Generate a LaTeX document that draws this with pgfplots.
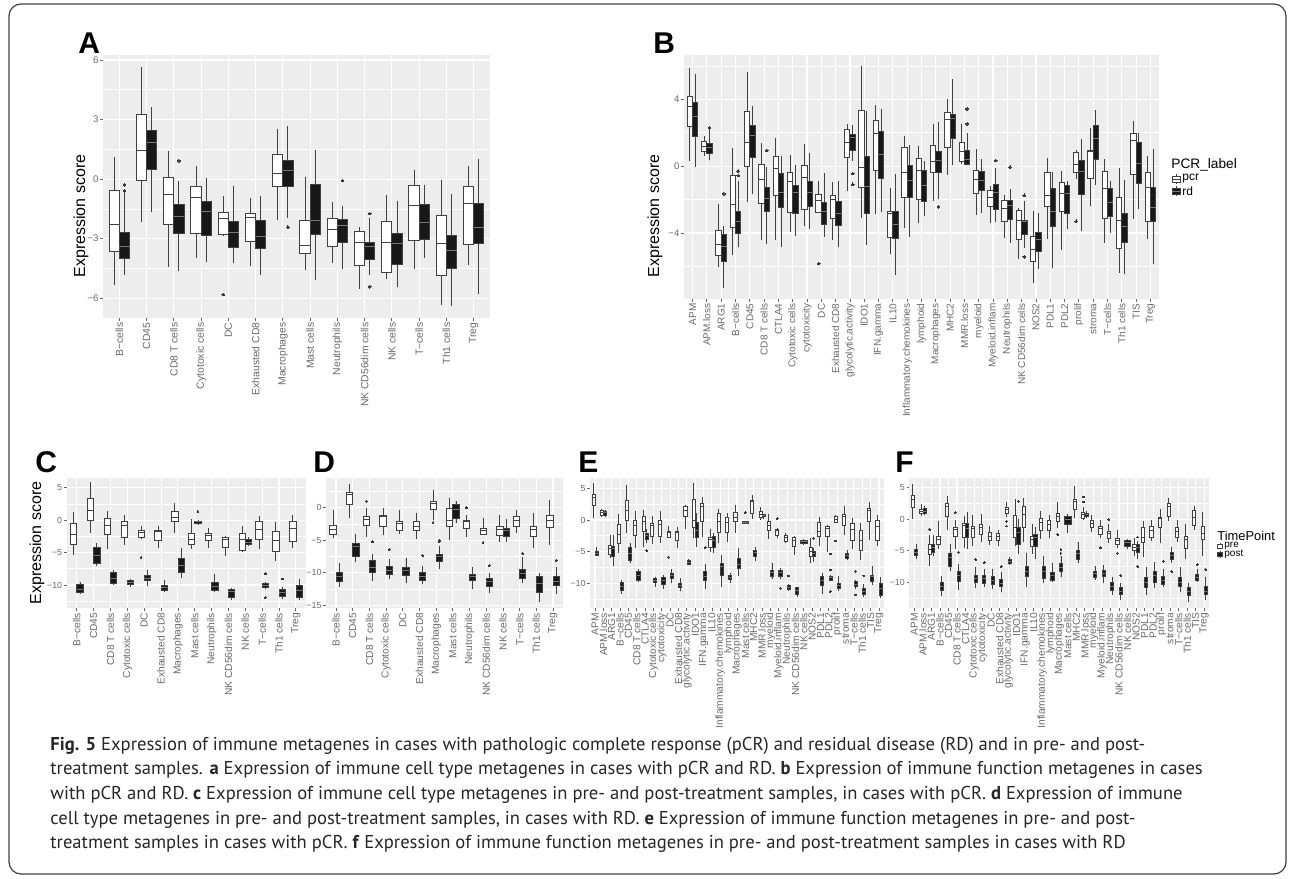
\documentclass[border=0pt]{standalone}
\usepackage{fontspec}
\setmainfont{Liberation Sans}
\newfontfamily\capfont{PT Sans}
\usepackage{pgfplots}
\pgfplotsset{compat=1.18}
\usepgfplotslibrary{statistics}
\definecolor{panelbg}{RGB}{237,237,237}
\definecolor{tickc}{RGB}{105,105,105}
\definecolor{bxline}{RGB}{65,65,65}
\definecolor{kfill}{RGB}{24,24,24}
\definecolor{kmed}{RGB}{120,120,120}
\definecolor{outc}{RGB}{55,55,55}
\def\bxlw{0.5pt}\def\omk{0.7pt}
\pgfplotsset{
  bx/.style={solid, line width=\bxlw, mark=*, mark size=\omk,
    mark options={solid, draw=outc, fill=outc, line width=0pt},
    boxplot/every whisker/.style={draw=bxline, line width=\bxlw}},
  wb/.style={bx, draw=bxline, fill=white, boxplot/every median/.style={draw=bxline, line width=\bxlw}},
  kb/.style={bx, draw=bxline, fill=kfill, boxplot/every median/.style={draw=kmed, line width=\bxlw}},
  ggax/.style={scale only axis, axis background/.style={fill=panelbg},
    boxplot/draw direction=y,
    axis x line*=bottom, axis y line*=left, axis line style={draw=none},
    tick align=outside, major tick length=1.3pt, minor tick length=0pt,
    tick style={draw=tickc, line width=0.4pt},
    xmajorgrids, ymajorgrids, yminorgrids,
    major grid style={draw=white, line width=0.55pt},
    minor grid style={draw=white, line width=0.3pt},
    xmin=0.4, xticklabel style={rotate=90, anchor=east, text=tickc, inner sep=0.8pt},
    yticklabel style={text=tickc, inner sep=0.8pt}},
}
\newcommand\Wb[7]{\addplot[wb, boxplot prepared={draw position=#1-0.1875, box extend=0.375, whisker extend=0, lower whisker=#2, lower quartile=#3, median=#4, upper quartile=#5, upper whisker=#6}] coordinates {#7};}
\newcommand\Kb[7]{\addplot[kb, boxplot prepared={draw position=#1+0.1875, box extend=0.375, whisker extend=0, lower whisker=#2, lower quartile=#3, median=#4, upper quartile=#5, upper whisker=#6}] coordinates {#7};}
\newcommand\Sb[7]{\addplot[kb, boxplot prepared={draw position=#1, box extend=0.75, whisker extend=0, lower whisker=#2, lower quartile=#3, median=#4, upper quartile=#5, upper whisker=#6}] coordinates {#7};}
\begin{document}
\begin{tikzpicture}
\useasboundingbox (0,0) rectangle (646pt,-439.5pt);
\draw[rounded corners=6pt, line width=0.6pt, black!75] (4.5pt,-2pt) rectangle (643pt,-437pt);
% ---------- A ----------
\begin{axis}[ggax, at={(51.5pt,-27.5pt)}, anchor=north west, width=193.5pt, height=131.5pt,
  xmax=14.6, ymin=-7, ymax=6.25, ytick={-6,-3,0,3,6}, yticklabels={−6,−3,0,3,6},
  minor ytick={-4.5,-1.5,1.5,4.5}, xtick={1,...,14},
  xticklabels={B−cells,CD45,CD8 T cells,Cytotoxic cells,DC,Exhausted CD8,Macrophages,Mast cells,Neutrophils,NK CD56dim cells,NK cells,T−cells,Th1 cells,Treg},
  xticklabel style={font=\fontsize{5.2}{6}\selectfont}, yticklabel style={font=\fontsize{4.8}{5.5}\selectfont}]
\Wb{1}{-5.32}{-3.67}{-2.30}{-0.57}{1.09}{}
\Kb{1}{-4.82}{-3.99}{-3.39}{-2.67}{-0.70}{(0,-0.29)(0,-0.59)}
\Wb{2}{-2.16}{-0.05}{1.43}{3.26}{5.64}{}
\Kb{2}{-1.68}{0.50}{1.85}{2.47}{3.62}{}
\Wb{3}{-4.43}{-2.27}{-0.76}{0.10}{1.39}{}
\Kb{3}{-4.65}{-2.72}{-1.91}{-1.26}{-0.08}{(0,0.92)}
\Wb{4}{-3.98}{-2.75}{-0.91}{-0.37}{0.67}{}
\Kb{4}{-4.19}{-2.85}{-1.61}{-1.14}{0.05}{}
\Wb{5}{-2.89}{-2.77}{-2.01}{-1.68}{-0.84}{(0,-5.82)}
\Kb{5}{-4.23}{-3.46}{-2.67}{-2.16}{-0.37}{}
\Wb{6}{-4.40}{-3.15}{-1.96}{-1.71}{-0.96}{}
\Kb{6}{-4.82}{-3.52}{-2.89}{-2.08}{-0.84}{}
\Wb{7}{-2.08}{-0.39}{0.30}{1.24}{2.53}{}
\Kb{7}{-1.96}{-0.35}{0.42}{0.92}{2.65}{(0,-2.42)}
\Wb{8}{-4.60}{-3.76}{-3.36}{-2.08}{0.10}{}
\Kb{8}{-5.07}{-2.79}{-2.08}{-0.29}{1.48}{}
\Wb{9}{-4.23}{-3.39}{-2.55}{-2.01}{-1.17}{}
\Kb{9}{-4.53}{-3.19}{-2.35}{-2.05}{-1.34}{(0,-0.07)}
\Wb{10}{-5.54}{-4.35}{-3.22}{-2.62}{-2.42}{}
\Kb{10}{-4.82}{-4.06}{-3.42}{-3.22}{-1.96}{(0,-1.74)(0,-5.42)}
\Wb{11}{-5.03}{-4.73}{-3.22}{-2.15}{-0.79}{}
\Kb{11}{-5.44}{-4.31}{-3.27}{-2.72}{-1.12}{}
\Wb{12}{-4.53}{-3.10}{-1.34}{-0.32}{0.47}{}
\Kb{12}{-3.98}{-3.02}{-2.18}{-1.29}{-0.29}{}
\Wb{13}{-6.34}{-4.87}{-3.27}{-1.83}{-0.07}{}
\Kb{13}{-6.38}{-4.51}{-3.59}{-2.85}{-0.76}{}
\Wb{14}{-4.35}{-3.31}{-1.24}{-0.37}{0.64}{}
\Kb{14}{-5.79}{-3.27}{-2.42}{-1.24}{1.02}{}
\end{axis}
% ---------- B ----------
\begin{axis}[ggax, at={(342pt,-27.5pt)}, anchor=north west, width=237.5pt, height=122pt,
  xmax=33.6, ymin=-7.95, ymax=6.65, ytick={-4,0,4}, yticklabels={−4,0,4},
  minor ytick={-6,-2,2,6}, xtick={1,...,33},
  xticklabels={APM,APM.loss,ARG1,B−cells,CD45,CD8 T cells,CTLA4,Cytotoxic cells,cytotoxicity,DC,Exhausted CD8,glycolytic.activity,IDO1,IFN.gamma,IL10,Inflammatory.chemokines,lymphoid,Macrophages,MHC2,MMR.loss,myeloid,Myeloid.inflam,Neutrophils,NK CD56dim cells,NOS2,PDL1,PDL2,prolif,stroma,T−cells,Th1 cells,TIS,Treg},
  xticklabel style={font=\fontsize{5}{6}\selectfont}, yticklabel style={font=\fontsize{4.8}{5.5}\selectfont}]
\Wb{1}{0.30}{2.39}{3.54}{4.18}{5.87}{}
\Kb{1}{-0.06}{1.79}{2.95}{3.78}{5.51}{}
\Wb{2}{0.60}{0.88}{1.19}{1.49}{1.83}{}
\Kb{2}{0.34}{0.76}{1.13}{1.33}{2.19}{(0,2.29)}
\Wb{3}{-6.01}{-5.33}{-4.68}{-3.88}{-2.29}{}
\Kb{3}{-7.32}{-5.71}{-4.78}{-4.12}{-3.58}{(0,-1.65)}
\Wb{4}{-5.33}{-3.68}{-2.29}{-0.56}{1.09}{}
\Kb{4}{-4.84}{-4.02}{-3.34}{-2.69}{-0.90}{(0,-0.30)(0,-0.56)}
\Wb{5}{-2.15}{-0.04}{1.43}{3.28}{5.63}{}
\Kb{5}{-1.69}{0.50}{1.83}{2.45}{3.62}{}
\Wb{6}{-4.44}{-2.23}{-0.80}{0.10}{1.39}{}
\Kb{6}{-4.64}{-2.73}{-1.93}{-1.29}{-0.06}{(0,0.94)}
\Wb{7}{-4.42}{-1.75}{-0.16}{0.58}{1.69}{}
\Kb{7}{-4.82}{-2.45}{-1.59}{-0.46}{0.60}{}
\Wb{8}{-3.94}{-2.79}{-0.94}{-0.40}{0.66}{}
\Kb{8}{-4.18}{-2.83}{-1.59}{-1.13}{0.06}{}
\Wb{9}{-3.58}{-2.59}{-0.70}{0.06}{1.35}{}
\Kb{9}{-3.78}{-2.43}{-1.59}{-0.90}{0.80}{}
\Wb{10}{-2.83}{-2.75}{-2.03}{-1.69}{-0.86}{(0,-5.83)}
\Kb{10}{-4.22}{-3.48}{-2.69}{-2.19}{-0.44}{}
\Wb{11}{-4.42}{-3.14}{-1.99}{-1.73}{-0.96}{}
\Kb{11}{-4.84}{-3.54}{-2.85}{-2.13}{-0.86}{}
\Wb{12}{-1.49}{0.50}{1.43}{2.19}{2.55}{}
\Kb{12}{0.30}{0.96}{1.69}{1.89}{2.45}{(0,-0.44)(0,-1.09)}
\Wb{13}{-3.08}{-1.29}{-0.10}{3.30}{5.97}{}
\Kb{13}{-4.74}{-2.85}{-1.19}{0.56}{3.32}{}
\Wb{14}{-2.85}{-0.24}{1.93}{2.73}{3.68}{}
\Kb{14}{-2.75}{-0.76}{0.70}{2.07}{3.44}{}
\Wb{15}{-5.27}{-4.28}{-2.83}{-2.69}{-1.29}{}
\Kb{15}{-6.53}{-4.34}{-3.52}{-2.69}{-0.46}{}
\Wb{16}{-3.68}{-1.89}{-0.36}{1.09}{1.79}{}
\Kb{16}{-4.22}{-1.89}{-0.86}{0.04}{1.29}{}
\Wb{17}{-3.38}{-1.99}{-0.26}{0.44}{1.23}{}
\Kb{17}{-2.99}{-2.09}{-1.15}{-0.26}{0.30}{}
\Wb{18}{-2.09}{-0.40}{0.30}{1.23}{2.53}{}
\Kb{18}{-1.95}{-0.40}{0.34}{0.90}{2.63}{(0,-2.43)}
\Wb{19}{-0.54}{1.09}{2.79}{3.22}{4.04}{}
\Kb{19}{0.04}{1.63}{2.83}{3.08}{5.21}{}
\Wb{20}{0.10}{0.30}{0.88}{1.43}{2.53}{}
\Kb{20}{0.04}{0.10}{0.40}{0.96}{1.99}{(0,3.42)(0,2.53)}
\Wb{21}{-2.93}{-1.65}{-0.80}{-0.24}{1.03}{}
\Kb{21}{-2.83}{-1.43}{-0.84}{-0.30}{0.40}{}
\Wb{22}{-3.42}{-2.43}{-1.89}{-1.43}{-1.19}{}
\Kb{22}{-3.34}{-2.59}{-1.59}{-1.09}{-0.10}{(0,0.34)}
\Wb{23}{-4.28}{-3.34}{-2.55}{-2.03}{-1.75}{}
\Kb{23}{-4.58}{-3.18}{-2.33}{-2.03}{-1.39}{(0,-0.06)}
\Wb{24}{-5.57}{-4.38}{-3.24}{-2.65}{-2.53}{}
\Kb{24}{-4.88}{-4.12}{-3.32}{-3.24}{-2.09}{(0,-1.75)(0,-5.43)}
\Wb{25}{-7.02}{-5.71}{-4.98}{-4.22}{-2.69}{}
\Kb{25}{-6.13}{-5.13}{-4.38}{-3.98}{-2.79}{}
\Wb{26}{-4.34}{-2.39}{-1.73}{-0.36}{0.50}{}
\Kb{26}{-6.07}{-3.62}{-2.69}{-1.35}{-0.36}{}
\Wb{27}{-5.03}{-2.69}{-1.63}{-1.00}{-0.30}{}
\Kb{27}{-3.78}{-2.83}{-1.65}{-1.15}{-0.90}{}
\Wb{28}{-0.76}{-0.36}{0.10}{0.80}{0.96}{(0,-3.30)}
\Kb{28}{-3.88}{-1.69}{-0.30}{0.34}{1.65}{}
\Wb{29}{-2.39}{-0.76}{0.86}{0.96}{2.29}{}
\Kb{29}{-1.15}{0.40}{1.65}{2.45}{3.38}{}
\Wb{30}{-4.58}{-3.14}{-1.35}{-0.34}{0.44}{}
\Kb{30}{-4.02}{-3.04}{-2.19}{-1.31}{-0.90}{}
\Wb{31}{-6.41}{-4.92}{-3.28}{-1.85}{-0.10}{}
\Kb{31}{-6.43}{-4.58}{-3.62}{-2.85}{-0.80}{}
\Wb{32}{-3.18}{-0.50}{1.53}{1.93}{2.73}{}
\Kb{32}{-2.59}{-1.05}{0.16}{1.39}{1.99}{}
\Wb{33}{-4.38}{-3.34}{-1.29}{-0.40}{0.60}{}
\Kb{33}{-5.87}{-3.32}{-2.49}{-1.29}{1.00}{}
\end{axis}
\gdef\bxlw{0.38pt}\gdef\omk{0.45pt}
% ---------- C ----------
\begin{axis}[ggax, at={(33.35pt,-238.85pt)}, anchor=north west, width=119.65pt, height=65.3pt,
  xmax=14.6, ymin=-13.6, ymax=6.55, ytick={-10,-5,0,5}, yticklabels={−10,−5,0,5},
  minor ytick={-12.5,-7.5,-2.5,2.5}, xtick={1,...,14},
  xticklabels={B−cells,CD45,CD8 T cells,Cytotoxic cells,DC,Exhausted CD8,Macrophages,Mast cells,Neutrophils,NK CD56dim cells,NK cells,T−cells,Th1 cells,Treg},
  xticklabel style={font=\fontsize{5.1}{6}\selectfont}, yticklabel style={font=\fontsize{4.4}{5}\selectfont}]
\Wb{1}{-5.30}{-3.67}{-2.15}{-0.42}{1.26}{}
\Kb{1}{-11.43}{-11.17}{-10.65}{-9.86}{-9.49}{}
\Wb{2}{-1.99}{0}{1.57}{3.41}{5.87}{}
\Kb{2}{-7.13}{-6.61}{-5.40}{-4.25}{-3.57}{}
\Wb{3}{-4.46}{-2.15}{-0.84}{0.21}{1.42}{}
\Kb{3}{-9.96}{-9.75}{-8.91}{-8.02}{-7.76}{}
\Wb{4}{-3.83}{-2.67}{-0.84}{-0.26}{0.73}{}
\Kb{4}{-10.38}{-9.96}{-9.60}{-9.33}{-9.07}{}
\Wb{5}{-2.94}{-2.73}{-1.89}{-1.63}{-0.84}{(0,-5.77)}
\Kb{5}{-10.12}{-9.33}{-8.91}{-8.50}{-7.76}{}
\Wb{6}{-4.35}{-3.15}{-1.73}{-1.63}{-0.94}{}
\Kb{6}{-11.01}{-10.80}{-10.38}{-10.07}{-9.18}{}
\Wb{7}{-1.99}{-0.26}{0.37}{1.31}{2.62}{}
\Kb{7}{-8.97}{-8.08}{-6.97}{-5.93}{-4.35}{}
\Wb{8}{-4.51}{-3.67}{-3.04}{-1.99}{0.21}{}
\Kb{8}{-0.73}{-0.45}{-0.25}{-0.12}{-0.02}{(0,1.36)}
\Wb{9}{-4.25}{-3.15}{-2.36}{-1.99}{-1.21}{}
\Kb{9}{-11.01}{-10.91}{-10.28}{-9.60}{-8.29}{}
\Wb{10}{-5.51}{-4.25}{-3.04}{-2.67}{-2.52}{}
\Kb{10}{-12.32}{-11.85}{-11.01}{-10.65}{-10.49}{}
\Wb{11}{-4.98}{-4.61}{-3.04}{-2.10}{-0.84}{}
\Kb{11}{-3.99}{-3.72}{-3.45}{-2.99}{-2.67}{}
\Wb{12}{-4.46}{-3.04}{-1.36}{-0.26}{0.63}{}
\Kb{12}{-10.65}{-10.38}{-10.02}{-9.75}{-9.60}{(0,-8.29)(0,-11.96)}
\Wb{13}{-6.29}{-4.77}{-3.15}{-1.73}{-0.26}{}
\Kb{13}{-12.22}{-11.69}{-11.17}{-10.65}{-10.28}{(0,-9.07)}
\Wb{14}{-4.35}{-3.30}{-1.21}{-0.26}{0.73}{}
\Kb{14}{-12.32}{-11.96}{-10.91}{-10.12}{-9.07}{}
\end{axis}
% ---------- D ----------
\begin{axis}[ggax, at={(163pt,-238.85pt)}, anchor=north west, width=118.5pt, height=65.3pt,
  xmax=14.6, ymin=-15.5, ymax=4.65, ytick={-15,-10,-5,0}, yticklabels={−15,−10,−5,0},
  minor ytick={-12.5,-7.5,-2.5,2.5}, xtick={1,...,14},
  xticklabels={B−cells,CD45,CD8 T cells,Cytotoxic cells,DC,Exhausted CD8,Macrophages,Mast cells,Neutrophils,NK CD56dim cells,NK cells,T−cells,Th1 cells,Treg},
  xticklabel style={font=\fontsize{5.1}{6}\selectfont}, yticklabel style={font=\fontsize{4.4}{5}\selectfont}]
\Wb{1}{-4.72}{-4.05}{-3.33}{-2.67}{-0.36}{}
\Kb{1}{-12.15}{-11.38}{-10.62}{-10.00}{-8.56}{}
\Wb{2}{-1.64}{0.56}{2.10}{2.46}{3.74}{}
\Kb{2}{-8.31}{-7.54}{-6.00}{-5.49}{-4.05}{}
\Wb{3}{-4.56}{-2.67}{-1.79}{-1.28}{-0.10}{(0,1.03)}
\Kb{3}{-11.23}{-10.00}{-9.18}{-8.15}{-7.18}{(0,-5.23)}
\Wb{4}{-4.21}{-2.82}{-1.38}{-1.13}{0.05}{}
\Kb{4}{-11.03}{-10.21}{-9.59}{-9.08}{-7.90}{(0,-6.41)}
\Wb{5}{-4.05}{-3.44}{-2.41}{-2.15}{-0.36}{}
\Kb{5}{-11.54}{-10.46}{-9.59}{-9.18}{-7.79}{}
\Wb{6}{-4.82}{-3.44}{-2.82}{-2.05}{-0.77}{}
\Kb{6}{-11.79}{-11.13}{-10.51}{-10.00}{-8.97}{(0,-7.38)}
\Wb{7}{-1.90}{-0.21}{0.67}{1.03}{2.72}{(0,-2.31)}
\Kb{7}{-9.49}{-8.21}{-7.54}{-7.18}{-5.90}{(0,-4.97)(0,-5.23)}
\Wb{8}{-4.97}{-2.82}{-1.90}{-0.10}{1.59}{}
\Kb{8}{-2.41}{-1.64}{-0.21}{0.51}{1.08}{}
\Wb{9}{-4.46}{-3.18}{-2.05}{-1.90}{-1.13}{(0,0)}
\Kb{9}{-12.56}{-11.23}{-10.62}{-10.21}{-9.08}{}
\Wb{10}{-4.21}{-4.05}{-3.44}{-3.18}{-1.64}{(0,-5.38)}
\Kb{10}{-13.18}{-12.05}{-11.38}{-10.87}{-10.00}{(0,-8.92)}
\Wb{11}{-5.23}{-4.21}{-3.33}{-2.82}{-1.13}{}
\Kb{11}{-5.23}{-4.46}{-3.54}{-3.18}{-1.74}{}
\Wb{12}{-3.95}{-2.92}{-1.90}{-1.28}{-0.26}{}
\Kb{12}{-11.64}{-10.87}{-10.10}{-9.49}{-7.64}{(0,-7.03)}
\Wb{13}{-6.26}{-4.46}{-3.33}{-2.82}{-0.77}{}
\Kb{13}{-14.6}{-13.1}{-11.6}{-10.6}{-10.1}{}
\Wb{14}{-5.74}{-3.03}{-1.90}{-1.13}{1.18}{}
\Kb{14}{-13.3}{-12.0}{-11.3}{-10.6}{-9.2}{(0,-8.1)}
\end{axis}
% ---------- E ----------
\begin{axis}[ggax, at={(295pt,-238.85pt)}, anchor=north west, width=147pt, height=65.3pt,
  xmax=35.6, ymin=-14.0, ymax=6.7, ytick={-10,-5,0,5}, yticklabels={−10,−5,0,5},
  minor ytick={-12.5,-7.5,-2.5,2.5}, xtick={1,...,35},
  xticklabels={APM,APM.loss,ARG1,B−cells,CD45,CD8 T cells,CTLA4,Cytotoxic cells,cytotoxicity,DC,Exhausted CD8,glycolytic.activity,IDO1,IFN.gamma,IL10,Inflammatory.chemokines,lymphoid,Macrophages,Mast cells,MHC2,MMR.loss,myeloid,Myeloid.inflam,Neutrophils,NK CD56dim cells,NK cells,NOS2,PDL1,PDL2,prolif,stroma,T−cells,Th1 cells,TIS,Treg},
  xticklabel style={font=\fontsize{5.1}{6}\selectfont}, yticklabel style={font=\fontsize{4.4}{5}\selectfont}]
\Wb{1}{0.26}{2.27}{3.59}{4.12}{5.81}{}
\Kb{1}{-5.70}{-5.54}{-5.28}{-4.91}{-4.22}{}
\Wb{2}{0.53}{0.79}{1.27}{1.48}{1.69}{}
\Kb{2}{0.53}{0.79}{1.16}{1.43}{1.58}{}
\Wb{3}{-6.07}{-5.44}{-4.49}{-3.96}{-2.38}{}
\Kb{3}{-7.29}{-5.81}{-4.49}{-4.12}{-2.38}{}
\Wb{4}{-5.28}{-3.70}{-2.27}{-0.69}{0.95}{}
\Kb{4}{-11.72}{-11.09}{-10.56}{-9.93}{-9.50}{}
\Wb{5}{-2.01}{0}{1.48}{3.17}{5.54}{}
\Kb{5}{-6.76}{-6.44}{-5.28}{-4.38}{-3.70}{}
\Wb{6}{-4.38}{-2.38}{-0.79}{0}{1.43}{}
\Kb{6}{-9.77}{-9.61}{-8.71}{-8.18}{-7.81}{}
\Wb{7}{-4.22}{-1.85}{-0.26}{0.53}{1.58}{}
\Kb{7}{-3.70}{-3.01}{-2.48}{-2.11}{-1.48}{(0,-4.86)}
\Wb{8}{-3.80}{-2.64}{-0.79}{-0.53}{0.63}{}
\Kb{8}{-10.56}{-9.93}{-9.50}{-9.24}{-8.98}{}
\Wb{9}{-3.59}{-2.64}{-0.69}{0}{1.43}{}
\Kb{9}{-10.98}{-10.14}{-9.50}{-9.08}{-8.71}{}
\Wb{10}{-2.90}{-2.75}{-1.95}{-1.74}{-0.95}{(0,-5.91)}
\Kb{10}{-9.93}{-9.24}{-8.71}{-8.45}{-7.81}{}
\Wb{11}{-4.49}{-3.17}{-2.01}{-1.85}{-1.06}{}
\Kb{11}{-11.19}{-10.72}{-10.40}{-10.03}{-9.24}{}
\Wb{12}{-1.48}{0.53}{1.48}{2.11}{2.38}{}
\Kb{12}{-7.18}{-6.97}{-6.71}{-6.44}{-6.18}{}
\Wb{13}{-2.90}{-1.21}{0}{3.27}{5.91}{}
\Kb{13}{-4.22}{-2.80}{-1.69}{-0.42}{1.06}{}
\Wb{14}{-2.64}{-0.26}{2.11}{2.64}{3.59}{}
\Kb{14}{-10.98}{-9.61}{-8.87}{-8.18}{-7.02}{(0,-4.38)}
\Wb{15}{-5.02}{-4.33}{-3.06}{-2.80}{-1.48}{}
\Kb{15}{-5.28}{-4.33}{-3.27}{-2.64}{-2.11}{}
\Wb{16}{-3.70}{-2.01}{-0.26}{1.06}{1.69}{}
\Kb{16}{-10.56}{-8.71}{-7.29}{-6.86}{-5.54}{}
\Wb{17}{-3.43}{-2.01}{-0.42}{0.37}{1.16}{}
\Kb{17}{-9.93}{-9.40}{-9.08}{-8.71}{-8.45}{}
\Wb{18}{-2.11}{-0.26}{0.37}{1.21}{2.38}{}
\Kb{18}{-8.87}{-7.66}{-6.97}{-6.07}{-4.49}{}
\Sb{19}{-0.63}{-0.50}{-0.37}{-0.22}{-0.16}{(0,1.16)}
\Wb{20}{0.16}{1.06}{2.90}{3.17}{3.96}{}
\Kb{20}{-6.44}{-5.81}{-5.17}{-4.75}{-4.22}{}
\Wb{21}{0}{0.37}{0.95}{1.43}{2.11}{}
\Kb{21}{0.21}{0.53}{0.74}{0.90}{0.95}{}
\Wb{22}{-3.06}{-1.58}{-0.79}{-0.26}{0.95}{}
\Kb{22}{-9.40}{-8.87}{-8.34}{-7.92}{-6.76}{}
\Wb{23}{-2.90}{-2.48}{-1.69}{-1.48}{-1.32}{(0,0.26)}
\Kb{23}{-9.40}{-8.87}{-8.34}{-7.92}{-7.55}{(0,-10.82)}
\Wb{24}{-3.59}{-3.33}{-2.75}{-2.38}{-2.11}{}
\Kb{24}{-11.19}{-10.98}{-10.66}{-10.30}{-10.14}{(0,-8.87)}
\Wb{25}{-5.54}{-4.22}{-3.17}{-2.75}{-2.53}{}
\Kb{25}{-12.14}{-11.72}{-11.19}{-10.72}{-10.56}{}
\Sb{26}{-3.91}{-3.70}{-3.38}{-3.17}{-3.01}{}
\Wb{27}{-6.86}{-5.70}{-5.02}{-4.33}{-2.90}{}
\Kb{27}{-6.60}{-5.81}{-5.28}{-4.91}{-4.49}{(0,-2.90)}
\Wb{28}{-4.12}{-2.53}{-1.85}{-0.42}{0.42}{}
\Kb{28}{-11.72}{-10.30}{-9.50}{-8.87}{-8.45}{}
\Wb{29}{-5.02}{-2.64}{-1.32}{-0.95}{-0.79}{}
\Kb{29}{-9.66}{-9.50}{-9.08}{-8.87}{-8.71}{(0,-5.38)(0,-7.92)(0,-11.35)}
\Wb{30}{-0.53}{-0.37}{0.16}{0.63}{0.79}{(0,-3.33)}
\Kb{30}{-11.19}{-10.82}{-10.40}{-10.03}{-8.87}{}
\Wb{31}{-2.38}{-0.79}{0.63}{0.90}{2.22}{}
\Kb{31}{-6.34}{-6.07}{-5.65}{-5.28}{-4.75}{}
\Wb{32}{-4.65}{-3.17}{-1.43}{-0.53}{0.26}{}
\Kb{32}{-10.98}{-10.56}{-10.14}{-9.77}{-9.50}{(0,-8.18)(0,-11.88)}
\Wb{33}{-6.34}{-4.86}{-3.27}{-1.58}{-0.42}{}
\Kb{33}{-12.25}{-11.72}{-11.35}{-10.82}{-10.14}{(0,-8.87)}
\Wb{34}{-3.17}{-0.26}{1.58}{1.85}{2.90}{}
\Kb{34}{-10.30}{-9.77}{-8.98}{-8.71}{-7.29}{}
\Wb{35}{-4.12}{-3.17}{-1.06}{0}{0.79}{}
\Kb{35}{-12.32}{-11.96}{-10.91}{-10.12}{-9.07}{}
\end{axis}
% ---------- F ----------
\begin{axis}[ggax, at={(454.65pt,-238.85pt)}, anchor=north west, width=150pt, height=65.3pt,
  xmax=35.6, ymin=-14.1, ymax=6.6, ytick={-10,-5,0,5}, yticklabels={−10,−5,0,5},
  minor ytick={-12.5,-7.5,-2.5,2.5}, xtick={1,...,35},
  xticklabels={APM,APM.loss,ARG1,B−cells,CD45,CD8 T cells,CTLA4,Cytotoxic cells,cytotoxicity,DC,Exhausted CD8,glycolytic.activity,IDO1,IFN.gamma,IL10,Inflammatory.chemokines,lymphoid,Macrophages,Mast cells,MHC2,MMR.loss,myeloid,Myeloid.inflam,Neutrophils,NK CD56dim cells,NK cells,NOS2,PDL1,PDL2,prolif,stroma,T−cells,Th1 cells,TIS,Treg},
  xticklabel style={font=\fontsize{5.1}{6}\selectfont}, yticklabel style={font=\fontsize{4.4}{5}\selectfont}]
\Wb{1}{0.11}{1.86}{3.13}{3.82}{5.67}{}
\Kb{1}{-6.26}{-5.73}{-5.20}{-4.77}{-3.87}{}
\Wb{2}{0.48}{0.90}{1.27}{1.54}{2.49}{}
\Kb{2}{0.64}{0.90}{1.33}{1.70}{2.07}{}
\Wb{3}{-7.32}{-5.62}{-4.77}{-3.98}{-2.55}{(0,-1.64)}
\Kb{3}{-5.73}{-5.20}{-4.51}{-4.03}{-2.55}{}
\Wb{4}{-4.67}{-3.98}{-3.18}{-2.65}{-0.32}{}
\Kb{4}{-12.09}{-11.29}{-10.60}{-9.97}{-8.91}{}
\Wb{5}{-1.64}{0.53}{2.07}{2.49}{3.66}{}
\Kb{5}{-8.22}{-7.48}{-5.99}{-5.46}{-3.87}{}
\Wb{6}{-4.67}{-2.65}{-1.64}{-1.22}{-0.05}{(0,1.06)}
\Kb{6}{-11.19}{-9.81}{-8.91}{-8.22}{-7.05}{(0,-5.20)}
\Wb{7}{-4.51}{-2.81}{-0.95}{-0.58}{0.53}{}
\Kb{7}{-4.67}{-2.92}{-1.48}{-0.69}{1.17}{}
\Wb{8}{-4.29}{-2.81}{-1.48}{-1.11}{0.64}{}
\Kb{8}{-10.87}{-9.97}{-9.33}{-8.91}{-7.58}{(0,-6.36)}
\Wb{9}{-3.61}{-2.39}{-1.33}{-0.85}{0.80}{}
\Kb{9}{-10.76}{-10.13}{-9.33}{-8.91}{-7.85}{(0,-6.89)}
\Wb{10}{-4.14}{-3.34}{-2.70}{-2.12}{-1.11}{}
\Kb{10}{-11.03}{-10.34}{-9.60}{-9.07}{-7.85}{}
\Wb{11}{-4.29}{-3.34}{-2.65}{-2.17}{-1.64}{}
\Kb{11}{-11.56}{-10.60}{-10.07}{-9.54}{-8.38}{(0,-7.48)}
\Wb{12}{0.37}{1.01}{1.59}{1.96}{2.76}{(0,-0.32)(0,-1.06)}
\Kb{12}{-7.16}{-6.95}{-6.63}{-6.36}{-5.99}{}
\Wb{13}{-4.29}{-2.81}{-1.22}{0.64}{3.29}{}
\Kb{13}{-5.46}{-3.98}{-2.01}{-1.33}{0.11}{(0,2.86)}
\Wb{14}{-3.61}{-1.33}{0.80}{2.07}{3.45}{}
\Kb{14}{-10.66}{-9.07}{-8.22}{-7.48}{-5.36}{}
\Wb{15}{-5.46}{-4.29}{-3.18}{-2.65}{-0.69}{}
\Kb{15}{-6.26}{-4.29}{-2.92}{-2.44}{-1.22}{}
\Wb{16}{-3.08}{-1.75}{-0.53}{0.11}{1.33}{}
\Kb{16}{-10.13}{-9.28}{-8.22}{-7.42}{-5.73}{}
\Wb{17}{-2.92}{-1.75}{-0.80}{-0.16}{0.64}{}
\Kb{17}{-9.97}{-9.60}{-8.91}{-8.38}{-6.89}{}
\Wb{18}{-1.33}{-0.27}{0.48}{1.01}{2.76}{(0,-2.39)}
\Kb{18}{-9.17}{-8.22}{-7.58}{-7.05}{-5.73}{(0,-4.83)(0,-5.36)}
\Sb{19}{-2.17}{-0.80}{-0.05}{0.48}{0.90}{}
\Wb{20}{0.27}{1.59}{2.92}{3.13}{5.25}{}
\Kb{20}{-6.89}{-6.42}{-5.46}{-4.93}{-3.61}{}
\Wb{21}{0}{0.11}{0.80}{1.06}{1.96}{(0,3.55)(0,2.76)}
\Kb{21}{0.27}{0.48}{0.80}{1.01}{1.33}{}
\Wb{22}{-2.01}{-1.33}{-0.58}{-0.16}{0.64}{}
\Kb{22}{-9.60}{-9.17}{-8.54}{-8.22}{-7.32}{}
\Wb{23}{-2.92}{-2.44}{-1.38}{-1.11}{-0.05}{(0,-4.51)}
\Kb{23}{-10.13}{-9.07}{-8.54}{-8.11}{-7.16}{}
\Wb{24}{-3.71}{-2.97}{-2.28}{-1.86}{-0.69}{(0,0)}
\Kb{24}{-11.93}{-11.19}{-10.66}{-9.97}{-9.07}{}
\Wb{25}{-4.51}{-3.98}{-3.34}{-3.08}{-1.64}{(0,-5.36)}
\Kb{25}{-12.78}{-11.93}{-11.40}{-10.76}{-10.13}{(0,-8.91)}
\Sb{26}{-4.67}{-4.29}{-3.71}{-3.34}{-3.08}{}
\Wb{27}{-5.73}{-4.93}{-4.40}{-3.98}{-2.92}{}
\Kb{27}{-6.26}{-5.20}{-4.40}{-3.98}{-3.45}{(0,-2.81)(0,-7.48)}
\Wb{28}{-5.99}{-3.61}{-2.81}{-1.22}{-0.27}{}
\Kb{28}{-11.93}{-10.76}{-9.97}{-9.17}{-7.58}{}
\Wb{29}{-3.45}{-2.81}{-1.75}{-1.11}{-0.16}{}
\Kb{29}{-10.87}{-9.97}{-8.91}{-8.22}{-6.79}{}
\Wb{30}{-3.76}{-1.33}{0.11}{0.37}{1.70}{}
\Kb{30}{-10.76}{-10.34}{-9.70}{-9.07}{-7.85}{(0,-6.63)}
\Wb{31}{-0.27}{0.48}{2.12}{2.60}{3.45}{}
\Kb{31}{-6.89}{-6.36}{-5.73}{-5.20}{-4.40}{(0,-8.27)}
\Wb{32}{-3.61}{-2.81}{-1.86}{-1.22}{-0.16}{}
\Kb{32}{-11.56}{-10.60}{-9.97}{-9.17}{-7.58}{}
\Wb{33}{-6.26}{-4.67}{-3.23}{-2.70}{-0.69}{}
\Kb{33}{-13.15}{-12.09}{-11.45}{-10.76}{-10.13}{}
\Wb{34}{-1.64}{-0.95}{0.37}{1.43}{2.07}{}
\Kb{34}{-9.97}{-9.60}{-9.17}{-8.80}{-7.85}{(0,-7.16)}
\Wb{35}{-5.73}{-3.18}{-2.28}{-1.11}{1.17}{}
\Kb{35}{-12.78}{-11.93}{-11.40}{-10.66}{-9.07}{(0,-8.01)}
\end{axis}
% ---------- labels ----------
\begin{scope}[font=\fontsize{15}{18}\selectfont\bfseries]
\node[anchor=base west, inner sep=0pt] at (39pt,-26.5pt) {A};
\node[anchor=base west, inner sep=0pt] at (326.5pt,-26.5pt) {B};
\node[anchor=base west, inner sep=0pt] at (17.5pt,-236pt) {C};
\node[anchor=base west, inner sep=0pt] at (156.5pt,-236pt) {D};
\node[anchor=base west, inner sep=0pt] at (289pt,-236pt) {E};
\node[anchor=base west, inner sep=0pt] at (447.5pt,-236pt) {F};
\end{scope}
\begin{scope}[font=\fontsize{8}{9}\selectfont]
\node[rotate=90, inner sep=0pt] at (40.5pt,-108pt) {Expression score};
\node[rotate=90, inner sep=0pt] at (327.5pt,-108pt) {Expression score};
\node[rotate=90, inner sep=0pt] at (18.5pt,-271.5pt) {Expression score};
\end{scope}
% legend B
\node[anchor=west, inner sep=0pt, font=\fontsize{6.85}{8}\selectfont] at (585.5pt,-82.5pt) {PCR\_label};
\draw[bxline, line width=0.45pt] (588pt,-87pt) -- (588pt,-92pt);
\draw[bxline, line width=0.45pt, fill=white] (586pt,-88pt) rectangle (590pt,-91pt);
\draw[bxline, line width=0.45pt] (586pt,-89.5pt) -- (590pt,-89.5pt);
\draw[bxline, line width=0.45pt] (588pt,-93pt) -- (588pt,-98pt);
\draw[bxline, line width=0.45pt, fill=kfill] (586pt,-94pt) rectangle (590pt,-97pt);
\draw[kmed, line width=0.45pt] (586pt,-95.5pt) -- (590pt,-95.5pt);
\node[anchor=west, inner sep=0pt, font=\fontsize{6}{7}\selectfont] at (591pt,-89.5pt) {pcr};
\node[anchor=west, inner sep=0pt, font=\fontsize{6}{7}\selectfont] at (591pt,-95.5pt) {rd};
% legend F
\node[anchor=west, inner sep=0pt, font=\fontsize{6.45}{7.5}\selectfont] at (608.5pt,-267.85pt) {TimePoint};
\draw[bxline, line width=0.35pt] (610pt,-271.3pt) -- (610pt,-274.7pt);
\draw[bxline, line width=0.35pt, fill=white] (608.8pt,-272pt) rectangle (611.2pt,-274pt);
\draw[bxline, line width=0.35pt] (610pt,-275.5pt) -- (610pt,-278.8pt);
\draw[bxline, line width=0.35pt, fill=kfill] (608.8pt,-276.2pt) rectangle (611.2pt,-278.2pt);
\node[anchor=west, inner sep=0pt, font=\fontsize{5}{6}\selectfont] at (612pt,-273pt) {pre};
\node[anchor=west, inner sep=0pt, font=\fontsize{5}{6}\selectfont] at (612pt,-277.15pt) {post};
% caption
\begin{scope}[font=\capfont\fontsize{9.3}{11}\selectfont, color=black!85]
\node[anchor=base west, inner sep=0pt] at (25pt,-375pt) {\textbf{Fig. 5} Expression of immune metagenes in cases with pathologic complete response (pCR) and residual disease (RD) and in pre- and post-};
\node[anchor=base west, inner sep=0pt] at (25pt,-387pt) {treatment samples. \textbf{a} Expression of immune cell type metagenes in cases with pCR and RD. \textbf{b} Expression of immune function metagenes in cases};
\node[anchor=base west, inner sep=0pt] at (25pt,-399.5pt) {with pCR and RD. \textbf{c} Expression of immune cell type metagenes in pre- and post-treatment samples, in cases with pCR. \textbf{d} Expression of immune};
\node[anchor=base west, inner sep=0pt] at (25pt,-412pt) {cell type metagenes in pre- and post-treatment samples, in cases with RD. \textbf{e} Expression of immune function metagenes in pre- and post-};
\node[anchor=base west, inner sep=0pt] at (25pt,-424pt) {treatment samples in cases with pCR. \textbf{f} Expression of immune function metagenes in pre- and post-treatment samples in cases with RD};
\end{scope}
\end{tikzpicture}
\end{document}
